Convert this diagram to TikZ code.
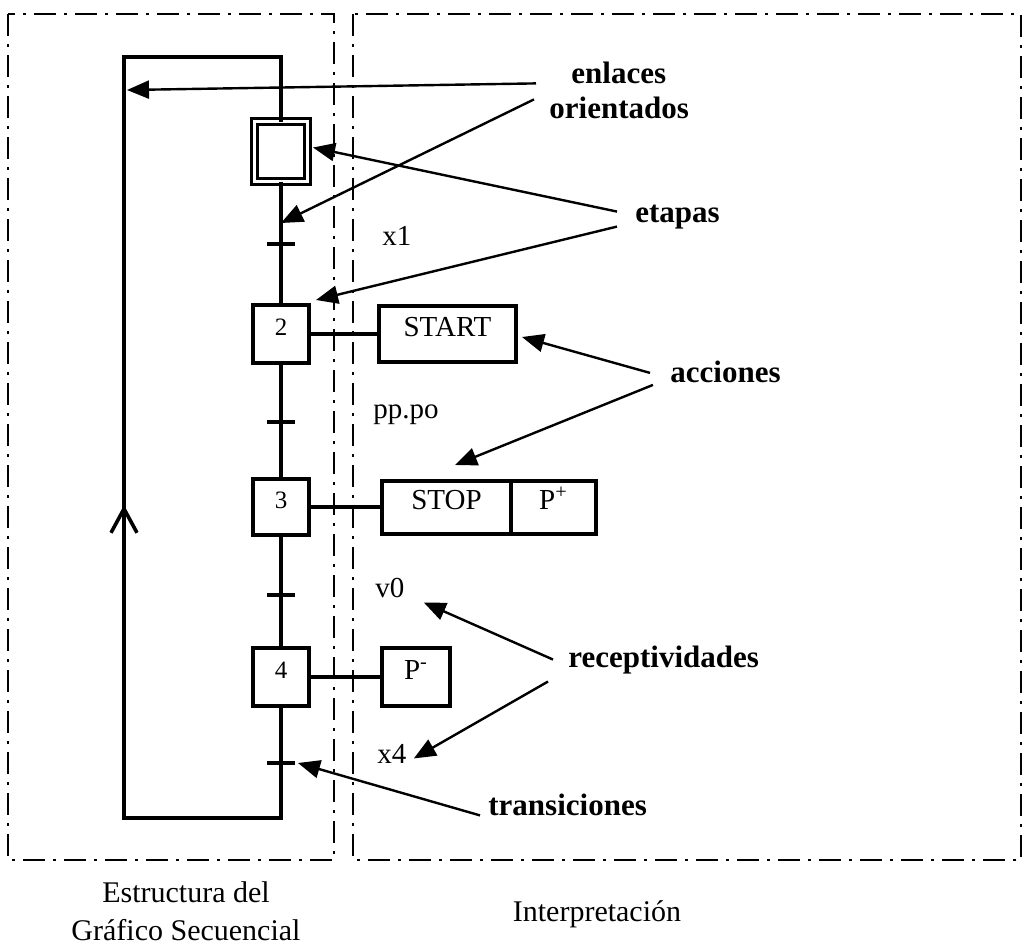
\documentclass[tikz,border=0pt]{standalone}
\usepackage{fontspec}
\setmainfont{Liberation Serif}
\usepackage{tikz}
\usetikzlibrary{positioning, calc, arrows.meta}

\begin{document}
\begin{tikzpicture}[x=0.5pt, y=-0.5pt,
	StepNode/.style={draw, line width=2pt, minimum width=28pt, minimum height=29pt, inner sep=0pt, outer sep=0pt, text height=8.5pt, text depth=7pt, font=\fontsize{12.5}{14}\selectfont},
	ActionNode/.style={draw, line width=2pt, minimum height=28pt, inner sep=0pt, outer sep=0pt, text height=10pt, text depth=8pt, font=\fontsize{14.5}{16}\selectfont},
	CondNode/.style={anchor=base west, inner sep=0pt, font=\fontsize{14.5}{16}\selectfont},
	TagNode/.style={anchor=base west, inner sep=0pt, font=\fontsize{15.5}{18}\selectfont\bfseries},
	CaptionNode/.style={anchor=base, inner sep=0pt, font=\fontsize{15}{18}\selectfont},
	ZoneLine/.style={line width=1.4pt, dash pattern=on 11pt off 4pt on 1.5pt off 4pt},
	FlowLine/.style={line width=1.8pt},
	PointerLine/.style={line width=1.2pt, -{Triangle[length=11pt, width=9pt]}}]

	\useasboundingbox (0,0) rectangle (1025,948);

	% Zones
	\draw[ZoneLine] (8,14) rectangle (334,860);
	\draw[ZoneLine] (353,14) rectangle (1021,860);

	% Steps
	\node[StepNode, double, line width=1.6pt, double distance=1.4pt, minimum width=26.5pt, minimum height=30pt] (Step1) at (281,151.5) {};
	\node[StepNode] (Step2) at (281,334) {2};
	\node[StepNode, minimum height=28pt] (Step3) at (281,507) {3};
	\node[StepNode] (Step4) at (281,677) {4};

	% Actions
	\node[ActionNode, minimum width=68.5pt] (StartNode) at (447.5,334) {START};
	\node[ActionNode, minimum width=64.5pt, minimum height=26.5pt] (StopNode) at (446.5,507) {STOP};
	\node[ActionNode, minimum width=42.5pt, minimum height=26.5pt, right=0pt of StopNode] (PPlusNode) {P\textsuperscript{+}};
	\node[ActionNode, minimum width=34pt, minimum height=29pt] (PMinusNode) at (416,677) {P\textsuperscript{-}};

	% Transitions
	\coordinate (T1) at (281,244);
	\coordinate (T2) at (281,422);
	\coordinate (T3) at (281,595);
	\coordinate (T4) at (281,763);

	% Loop corners
	\coordinate (LoopBR) at (281,818);
	\coordinate (LoopBL) at (124,818);
	\coordinate (LoopUp) at (124,505);
	\coordinate (LoopTL) at (124,57);
	\coordinate (LoopTR) at (281,57);
	\coordinate (LoopMark) at (127,90);
	\coordinate (LinkMark) at (281,223);

	% Receptivities
	\node[CondNode] (CondX1) at (382,245) {x1};
	\node[CondNode] (CondPP) at (373,418) {pp.po};
	\node[CondNode] (CondV0) at (375,597) {v0};
	\node[CondNode] (CondX4) at (377,763) {x4};

	% Labels
	\node[TagNode] (Enlaces) at (571,83) {enlaces};
	\node[TagNode] (Orientados) at (549,118) {orientados};
	\node[TagNode] (Etapas) at (635,222) {etapas};
	\node[TagNode] (Acciones) at (670,382) {acciones};
	\node[TagNode] (Receptividades) at (568,667) {receptividades};
	\node[TagNode] (Transiciones) at (488,815) {transiciones};

	\node[CaptionNode] (CapLeftA) at (186,902) {Estructura del};
	\node[CaptionNode] (CapLeftB) at (186,940) {Gráfico Secuencial};
	\node[CaptionNode] (CapRight) at (597,921) {Interpretación};

	% Lines
	\draw[FlowLine] (Step1) -- (Step2) -- (Step3) -- (Step4) -- (LoopBR) -- (LoopBL) -- (LoopTL) -- (LoopTR) -- (Step1);
	\draw[FlowLine, -{Straight Barb[length=12pt, width=13pt]}] (LoopBL) -- (LoopUp);
	\foreach \t in {T1,T2,T3,T4}
		\draw[line width=2pt] ([shift={(-14,0)}]\t) -- ([shift={(14,0)}]\t);

	\draw[FlowLine] (Step2) -- (StartNode);
	\draw[FlowLine] (Step3) -- (StopNode);
	\draw[FlowLine] (Step4) -- (PMinusNode);

	% Pointers
	\draw[PointerLine] ([shift={(-13,-24)}]Orientados.west) -- (LoopMark);
	\draw[PointerLine] ([shift={(-15,-8)}]Orientados.west) -- (LinkMark);
	\draw[PointerLine] ([shift={(-18,-5)}]Etapas.west) -- ([shift={(5.5,-4)}]Step1.east);
	\draw[PointerLine] ([shift={(-18,10)}]Etapas.west) -- ([shift={(7,-5)}]Step2.north east);
	\draw[PointerLine] ([shift={(-20,1.5)}]Acciones.west) -- ([shift={(6,3)}]StartNode.east);
	\draw[PointerLine] ([shift={(-17,13.5)}]Acciones.west) -- ([shift={(8.5,-15.5)}]StopNode.north);
	\draw[PointerLine] ([shift={(-15,0)}]Receptividades.west) -- ([shift={(19,15)}]CondV0.east);
	\draw[PointerLine] ([shift={(-20,22)}]Receptividades.west) -- ([shift={(7,5)}]CondX4.east);
	\draw[PointerLine] ([shift={(-8,11)}]Transiciones.west) -- ([shift={(17,0)}]T4);
\end{tikzpicture}
\end{document}
